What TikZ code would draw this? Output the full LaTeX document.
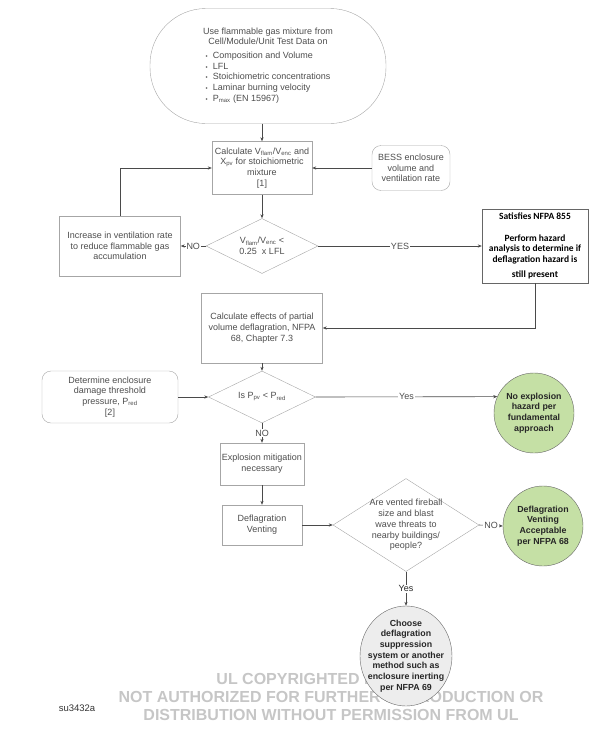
\documentclass[tikz,border=0pt]{standalone}
\usepackage{fontspec}
\setmainfont{Liberation Sans}
\newfontfamily\calfont{Carlito}
\usetikzlibrary{arrows.meta,positioning,shapes.geometric}
\definecolor{txtgray}{HTML}{4D4D4D}
\definecolor{boxgray}{HTML}{A6A6A6}
\definecolor{linegray}{HTML}{4A4A4A}
\definecolor{okgreen}{HTML}{C5E0A5}
\definecolor{suppgray}{HTML}{EDEDED}
\definecolor{markgray}{HTML}{C6C6C6}

\begin{document}
\begin{tikzpicture}
 [x=1pt,y=-1pt,
  txt/.style={font=\fontsize{9}{10.7}\selectfont,text=txtgray,align=center},
  proc/.style={txt,draw=boxgray,rectangle,inner sep=0pt},
  soft/.style={proc,rounded corners=9pt},
  decide/.style={txt,draw=boxgray,diamond,inner sep=-12pt},
  result/.style={circle,draw=black!60,fill=okgreen,inner sep=-4pt,minimum size=80pt,align=center,
    font=\fontsize{8.8}{10.7}\selectfont\bfseries,text=black!85},
  lbl/.style={txt,fill=white,inner sep=1pt},
  arr/.style={-{Stealth[length=4pt,width=3.2pt]},draw=linegray,line width=0.6pt}]
 \useasboundingbox (0,0) rectangle (616,745);
 \node[proc,rounded corners=56pt,minimum width=236pt,minimum height=115pt] (src) at (268,66)
  {Use flammable gas mixture from\\Cell/Module/Unit Test Data on\\[5pt]
   \begin{tabular}{@{}l@{\hspace{5pt}}l@{}}
    {\fontsize{6}{6}\selectfont •} & Composition and Volume\\
    {\fontsize{6}{6}\selectfont •} & LFL\\
    {\fontsize{6}{6}\selectfont •} & Stoichiometric concentrations\\
    {\fontsize{6}{6}\selectfont •} & Laminar burning velocity\\
    {\fontsize{6}{6}\selectfont •} & P\textsubscript{max} (EN 15967)
   \end{tabular}};
 \node[proc,minimum width=100pt,minimum height=53pt] (calc) at (262,168)
  {Calculate V\textsubscript{flam}/V\textsubscript{enc} and\\X\textsubscript{pv} for stoichiometric\\mixture\\{}[1]};
 \node[soft,minimum width=78pt,minimum height=45pt] (bess) at (411,168)
  {BESS enclosure\\volume and\\ventilation rate};
 \node[decide,minimum width=112pt,minimum height=55pt] (chk1) at (262,246)
  {V\textsubscript{flam}/V\textsubscript{enc} <\\0.25\ \ x LFL};
 \node[proc,minimum width=121pt,minimum height=60pt] (vent) at (120,246)
  {Increase in ventilation rate\\to reduce flammable gas\\accumulation};
 \node[proc,draw=black!60,minimum width=106pt,minimum height=74pt,
  font=\calfont\bfseries\fontsize{9.5}{10.7}\selectfont,text=black] (nfpa) at (535,246)
  {Satisfies NFPA 855\\[10.5pt]Perform hazard\\analysis to determine if\\deflagration hazard is\\[4pt]still present};
 \node[proc,minimum width=121pt,minimum height=70pt] (part) at (262,328)
  {Calculate effects of partial\\volume deflagration, NFPA\\68, Chapter 7.3};
 \node[decide,minimum width=107pt,minimum height=52pt] (chk2) at (262,397)
  {Is P\textsubscript{pv} < P\textsubscript{red}};
 \node[soft,minimum width=136pt,minimum height=52pt] (det) at (110,397)
  {Determine enclosure\\damage threshold\\pressure, P\textsubscript{red}\\{}[2]};
 \node[result] (nexp) at (534,413) {No explosion\\hazard per\\fundamental\\approach};
 \node[proc,minimum width=84pt,minimum height=42pt] (mit) at (262,464)
  {Explosion mitigation\\necessary};
 \node[proc,minimum width=80pt,minimum height=40pt] (defl) at (262,525)
  {Deflagration\\Venting};
 \node[decide,minimum width=146pt,minimum height=93pt] (chk3) at (406,525)
  {Are vented fireball\\size and blast\\wave threats to\\nearby buildings/\\people?};
 \node[result] (vacc) at (543,526) {Deflagration\\Venting\\Acceptable\\per NFPA 68};
 \node[font=\bfseries\fontsize{16}{18}\selectfont,text=markgray,align=center] (mark) at (331,697)
  {UL COPYRIGHTED MATERIAL\\NOT AUTHORIZED FOR FURTHER REPRODUCTION OR\\DISTRIBUTION WITHOUT PERMISSION FROM UL};
 \node[ellipse,draw=black!60,fill=suppgray,minimum width=92pt,minimum height=100pt,inner sep=-8pt,
  align=center,font=\fontsize{8.8}{10.7}\selectfont\bfseries,text=black!85] (supp) at (406,656)
  {Choose\\deflagration\\suppression\\system or another\\method such as\\enclosure inerting\\per NFPA 69};
 \node[font=\fontsize{9.5}{10}\selectfont,text=black!80] (tag) at (77,708) {su3432a};
 \draw[arr] (calc.north |- src.south) -- (calc.north);
 \draw[arr] (bess.west) -- (calc.east);
 \draw[arr] (calc.south) -- (chk1.north);
 \draw[arr] (chk1.west) -- node[lbl] {NO} (vent.east);
 \draw[arr] (vent.north) |- (calc.west);
 \draw[arr] (chk1.east) -- node[lbl] {YES} (nfpa.west);
 \draw[arr] (nfpa.south) |- (part.east);
 \draw[arr] (part.south) -- (chk2.north);
 \draw[arr] (det.east) -- (chk2.west);
 \draw[arr] (chk2.east) -- node[lbl] {Yes} (nexp.156);
 \draw[arr] (chk2.south) -- node[lbl] {NO} (mit.north);
 \draw[arr] (mit.south) -- (defl.north);
 \draw[arr] (defl.east) -- (chk3.west);
 \draw[arr] (chk3.east) -- node[lbl] {NO} (vacc.west);
 \draw[arr] (chk3.south) -- node[lbl,text=black!85] {Yes} (supp.north);
\end{tikzpicture}
\end{document}
